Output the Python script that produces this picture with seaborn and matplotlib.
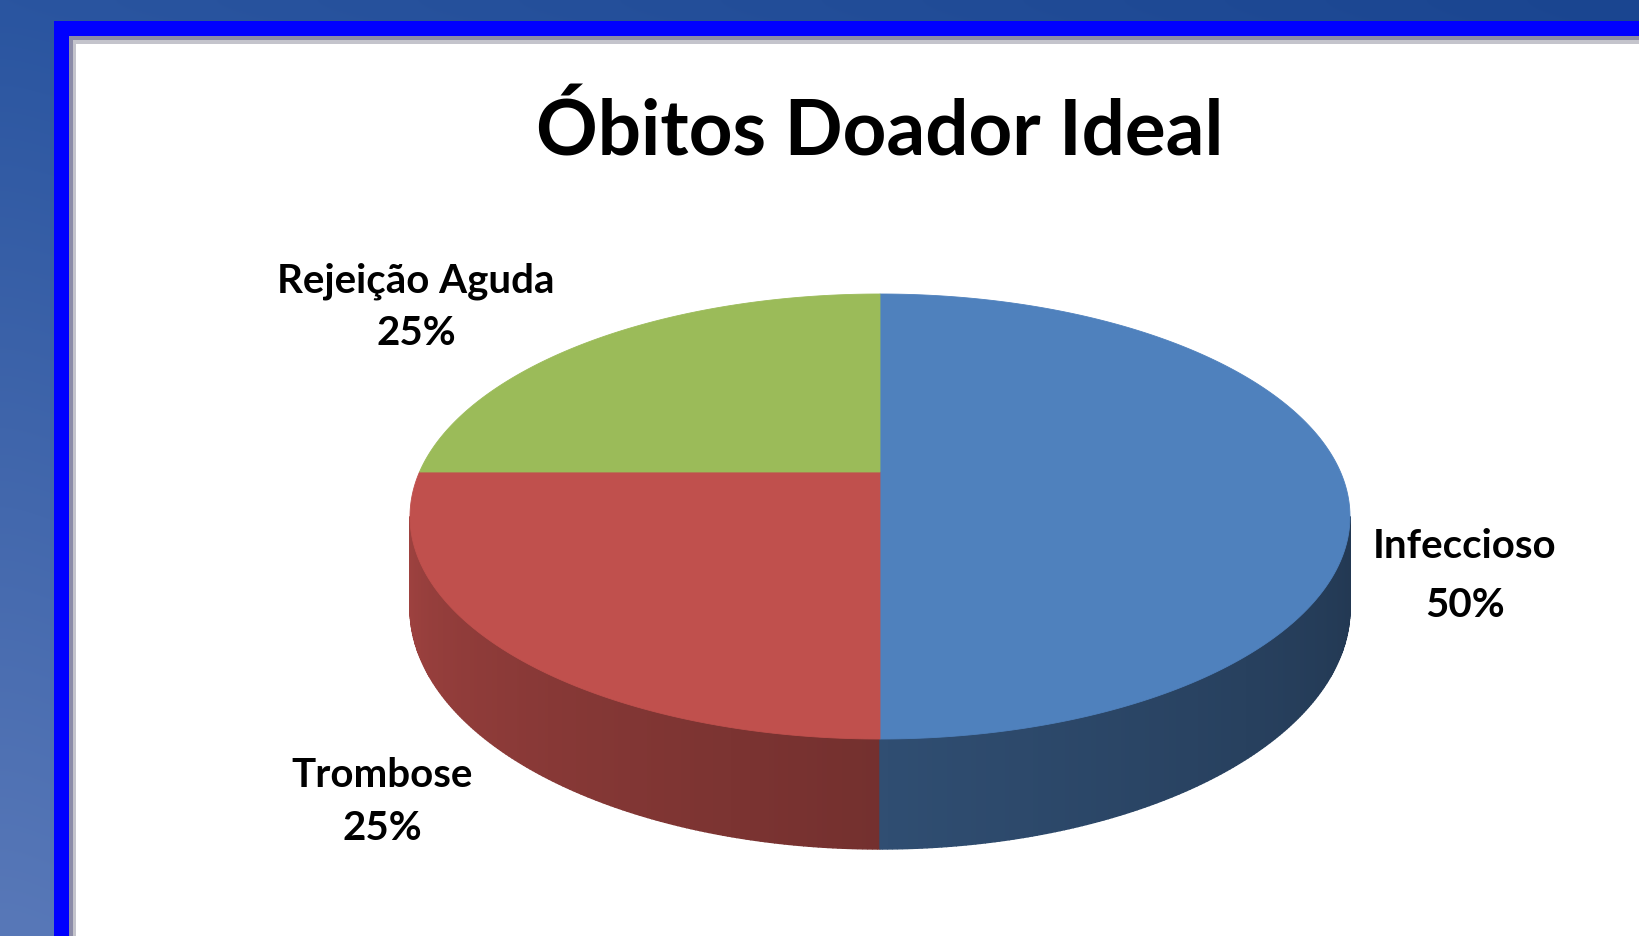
import numpy as np
import matplotlib
matplotlib.use("Agg")
import matplotlib.pyplot as plt
from matplotlib.patches import Rectangle, Polygon
import seaborn as sns

# ---- data ----
categories = ["Infeccioso", "Trombose", "Rejeição Aguda"]
values = [50, 25, 25]
pct_labels = ["50%", "25%", "25%"]
title_text = "Óbitos Doador Ideal"
slice_colors = ["#4F81BD", "#C0504D", "#9BBB59"]

sns.set_theme(style="white")
plt.rcParams['font.family'] = ['Lato', 'DejaVu Sans']

W, H = 1639, 937
fig = plt.figure(figsize=(W / 100, H / 100), dpi=100)
ax = fig.add_axes([0, 0, 1, 1])
ax.set_xlim(0, W)
ax.set_ylim(H, 0)
ax.axis('off')

# ---- slide background gradient ----
tl = np.array([0x2A, 0x55, 0xA0]) / 255
tr = np.array([0x1A, 0x45, 0x90]) / 255
bl = np.array([0x58, 0x78, 0xB8]) / 255
br = np.array([0x3A, 0x60, 0xA8]) / 255
gy, gx = np.mgrid[0:1:64j, 0:1:64j]
grad = ((1 - gy)[..., None] * ((1 - gx)[..., None] * tl + gx[..., None] * tr)
        + gy[..., None] * ((1 - gx)[..., None] * bl + gx[..., None] * br))
ax.imshow(grad, extent=(0, W, H, 0), aspect='auto', zorder=0, interpolation='bicubic')

# frame
ax.add_patch(Rectangle((54, 22), W, H, facecolor='#0000FF', edgecolor='none', zorder=1))
ax.add_patch(Rectangle((69, 37), W, H, facecolor='#8C8CA8', edgecolor='none', zorder=1))
ax.add_patch(Rectangle((73, 41), W, H, facecolor='#C4C4CC', edgecolor='none', zorder=1))
ax.add_patch(Rectangle((76, 45), W, H, facecolor='white', edgecolor='none', zorder=1))

# ---- 3D perspective pie ----
cx, cy = 880.0, 473.0
k = 0.20          # perspective strength
cdepth = 213.6    # vertical radius factor
s = 460.5         # horizontal radius factor
E = 88.0          # thickness


def proj(t_deg, z):
    t = np.radians(t_deg)
    x, y = np.cos(t), np.sin(t)
    w = 1 + k * y
    X = cx + s * x / w
    Y = cy - (cdepth * y + E * z) / w
    return X, Y


fracs = np.array(values, dtype=float) / np.sum(values)
starts = 90 - 360 * np.concatenate([[0], np.cumsum(fracs)[:-1]])
ends = 90 - 360 * np.cumsum(fracs)


def wedge_of(t):
    for i in range(len(values)):
        lo, hi = ends[i], starts[i]
        tt = t
        while tt > hi:
            tt -= 360
        while tt < lo:
            tt += 360
        if lo <= tt <= hi:
            return i
    return 0


def shade(col, f):
    rgb = np.array(matplotlib.colors.to_rgb(col))
    return tuple(np.clip(rgb * f, 0, 1))


# side strips (visible front region bounded by silhouette)
t_sil = np.degrees(np.arcsin(k))
t_left, t_right = -180 + t_sil, -t_sil
edges = np.linspace(t_left, t_right, 320)
bnds = [b for b in list(starts) + list(ends) if t_left < b < t_right]
edges = np.unique(np.concatenate([edges, bnds]))
strips = []
for a, b in zip(edges[:-1], edges[1:]):
    mid = 0.5 * (a + b)
    i = wedge_of(mid)
    u = -mid / 180.0
    f = 0.42 + 0.45 * u ** 1.3
    ts = np.array([a, b])
    X0, Y0 = proj(ts, 0)
    X1, Y1 = proj(ts[::-1], -1)
    poly = np.column_stack([np.concatenate([X0, X1]), np.concatenate([Y0, Y1])])
    strips.append((np.sin(np.radians(mid)), poly, shade(slice_colors[i], f)))
strips.sort(key=lambda r: -r[0])
for _, poly, col in strips:
    ax.add_patch(Polygon(poly, closed=True, facecolor=col, edgecolor=col, lw=1.0, zorder=3))

# top faces
for i in range(len(values)):
    ts = np.linspace(starts[i], ends[i], 200)
    X, Y = proj(ts, 0)
    poly = np.column_stack([np.concatenate([[cx], X]), np.concatenate([[cy], Y])])
    ax.add_patch(Polygon(poly, closed=True, facecolor=slice_colors[i],
                         edgecolor=slice_colors[i], lw=0.6, zorder=4))

# ---- text ----
ax.text(880, 156, title_text, ha='center', va='baseline', fontsize=55,
        fontweight='bold', color='black', zorder=5)

label_pos = {"Infeccioso": (1465, 558, 617),
             "Trombose": (382, 787, 840),
             "Rejeição Aguda": (416, 293, 345)}
for cat, pct in zip(categories, pct_labels):
    x, y1, y2 = label_pos[cat]
    ax.text(x, y1, cat, ha='center', va='baseline', fontsize=29,
            fontweight='bold', color='black', zorder=5)
    ax.text(x, y2, pct, ha='center', va='baseline', fontsize=29,
            fontweight='bold', color='black', zorder=5)

fig.savefig("out.png", dpi=100)
